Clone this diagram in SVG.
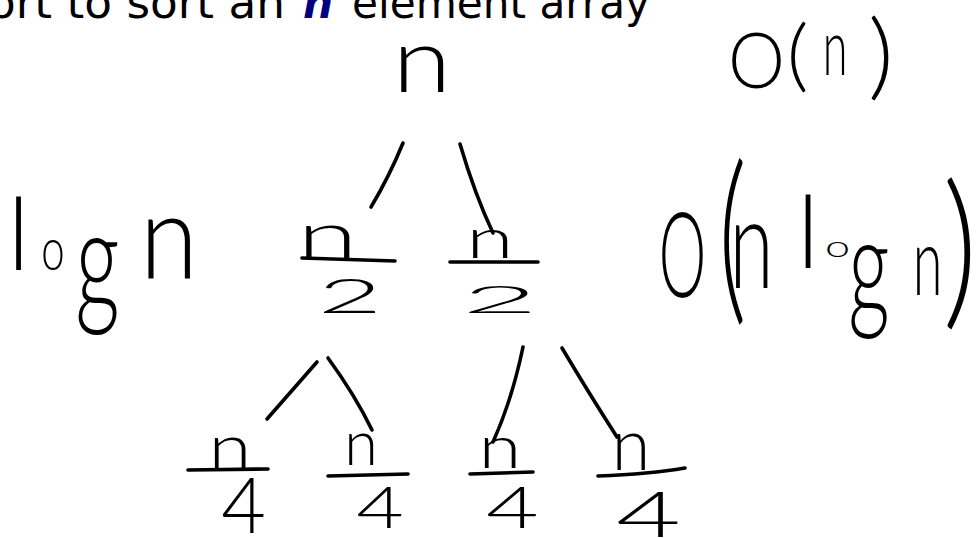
<svg xmlns="http://www.w3.org/2000/svg" width="979" height="538" viewBox="0 0 979 538">
<style>
.t{font-family:"DejaVu Sans","Liberation Sans",sans-serif;font-size:45px;fill:#000}
.v{font-style:italic;font-weight:bold;fill:#000080}
.h{font-family:Lato,"Open Sans","DejaVu Sans",sans-serif;font-weight:300;font-size:100px;text-anchor:middle;fill:#000}
.bar,.c{stroke:#000;stroke-width:3.6;stroke-linecap:round;fill:none}
</style>
<rect width="979" height="538" fill="#fff"/>
<g id="title">
<text class="t" x="-12" y="18" textLength="297" lengthAdjust="spacingAndGlyphs">ort to sort an</text>
<text class="t v" x="303" y="18" textLength="30" lengthAdjust="spacingAndGlyphs">n</text>
<text class="t" x="352" y="18" textLength="298" lengthAdjust="spacingAndGlyphs">element array</text>
</g>
<g id="root">
<text class="h" transform="translate(422,92) scale(1.07,0.91)">n</text>
</g>
<g id="label-logn">
<text class="h" transform="translate(18.5,270) scale(1,1.01)">l</text>
<text class="h" transform="translate(53,270) scale(0.42,0.6)">o</text>
<text class="h" transform="translate(97.5,309) scale(0.87,1.4)">g</text>
<text class="h" transform="translate(169,278) scale(1.06,1.18)">n</text>
</g>
<g id="half-left">
<text class="h" transform="translate(327.5,258) scale(1.1,0.65)">n</text>
<path class="bar" d="M302,258 L395,261"/>
<text class="h" transform="translate(350,313) scale(1.12,0.48)">2</text>
</g>
<g id="half-right">
<text class="h" transform="translate(490,258) scale(0.87,0.55)">n</text>
<path class="bar" d="M450,262 L538,262"/>
<text class="h" transform="translate(500,313) scale(1.32,0.38)">2</text>
</g>
<g id="quarter-1">
<text class="h" transform="translate(230,470) scale(0.78,0.64)">n</text>
<path class="bar" d="M188,470 L268,469"/>
<text class="h" transform="translate(243.5,533) scale(0.77,0.76)">4</text>
</g>
<g id="quarter-2">
<text class="h" transform="translate(361,465) scale(0.61,0.64)">n</text>
<path class="bar" d="M328,476 L408,474"/>
<text class="h" transform="translate(380,528) scale(0.82,0.57)">4</text>
</g>
<g id="quarter-3">
<text class="h" transform="translate(500,468) scale(0.78,0.6)">n</text>
<path class="bar" d="M470,474 L533,472"/>
<text class="h" transform="translate(512.5,528) scale(0.91,0.57)">4</text>
</g>
<g id="quarter-4">
<text class="h" transform="translate(631,470) scale(0.7,0.73)">n</text>
<path class="bar" d="M598,476 Q650,474 685,468"/>
<text class="h" transform="translate(648.5,537) scale(1.12,0.63)">4</text>
</g>
<g id="label-On">
<text class="h" transform="translate(756.5,88) scale(0.72,0.77)">O</text>
<text class="h" transform="translate(797.5,82) scale(0.86,0.78)">(</text>
<text class="h" transform="translate(835,75) scale(0.45,0.78)">n</text>
<text class="h" transform="translate(881,88) scale(1,0.95)">)</text>
</g>
<g id="label-Onlogn">
<text class="h" transform="translate(682.5,297) scale(0.6,1.19)">O</text>
<text class="h" transform="translate(732.5,300) scale(1.1,1.85)">(</text>
<text class="h" transform="translate(751.5,288) scale(0.8,1.27)">n</text>
<text class="h" transform="translate(808,268) scale(1,1.01)">l</text>
<text class="h" transform="translate(837.5,257) scale(0.45,0.3)">o</text>
<text class="h" transform="translate(869,314) scale(0.81,1.36)">g</text>
<text class="h" transform="translate(927.5,295) scale(0.54,0.95)">n</text>
<text class="h" transform="translate(960,307) scale(1.36,1.7)">)</text>
</g>
<g id="connectors">
<path class="c" d="M403,143 Q389,177 371,207"/>
<path class="c" d="M460,144 Q475,195 493,233"/>
<path class="c" d="M317,362 L267,419"/>
<path class="c" d="M328,358 Q355,395 372,430"/>
<path class="c" d="M523,347 Q512,400 493,442"/>
<path class="c" d="M562,348 Q590,395 617,437"/>
</g>
</svg>
